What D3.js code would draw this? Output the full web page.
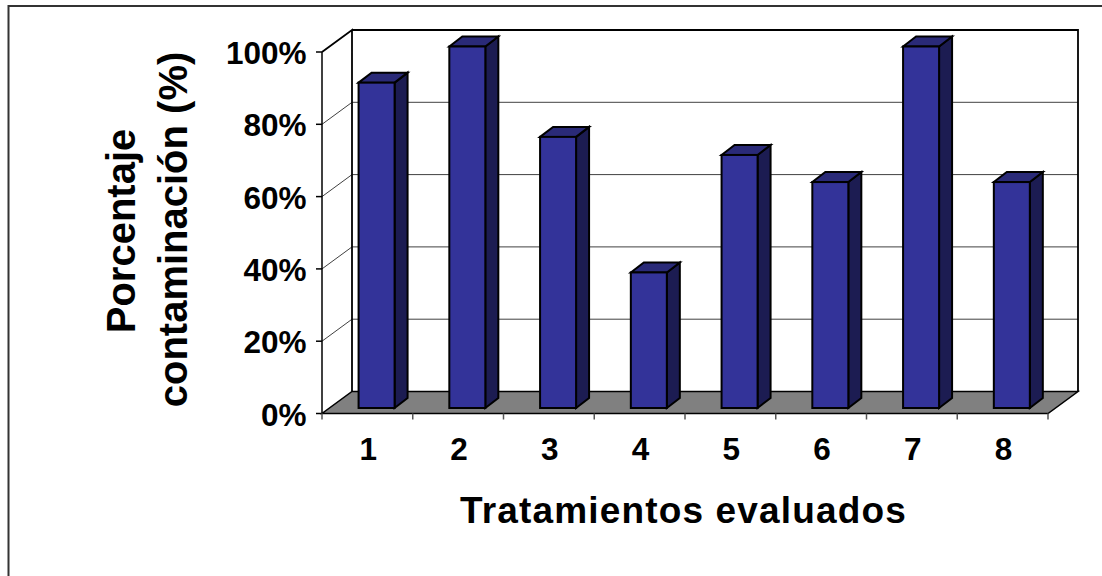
<!DOCTYPE html>
<html>
<head>
<meta charset="utf-8">
<script src="https://cdn.jsdelivr.net/npm/d3@7"></script>
<style>
html, body { margin: 0; padding: 0; background: #fff; overflow: hidden; }
text { font-family: "Liberation Sans", Arial, sans-serif; font-weight: 700; fill: #000; }
</style>
</head>
<body>
<svg id="chart" width="1102" height="576"></svg>
<script>
const categories = ["1", "2", "3", "4", "5", "6", "7", "8"];
const contamination = [90, 100, 75, 37.5, 70, 62.5, 100, 62.5];
const percentTicks = [0, 20, 40, 60, 80, 100];
const xTitle = "Tratamientos evaluados";
const yTitleLines = ["Porcentaje", "contaminación (%)"];

const svg = d3.select("#chart");

const front = { left: 322, right: 1048, bottom: 413.5, top: 52 };
const depth = { dx: 30, dy: -22 };

const x = d3.scaleBand().domain(categories).range([front.left, front.right]);
const y = d3.scaleLinear().domain([0, 100]).range([front.bottom, front.top]);

const line = d3.line();
const barWidth = 36;
const barDepth = { dx: 13, dy: -10 };
const barLift = -5.5;
const barShift = 9.2;

// Chart area frame: only the top and left edges are visible
svg.append("path")
  .attr("d", "M8.5,576V6H1102")
  .attr("fill", "none").attr("stroke", "#333").attr("stroke-width", 2);

// Floor
svg.append("path")
  .attr("d", line([
    [front.left, front.bottom],
    [front.right, front.bottom],
    [front.right + depth.dx, front.bottom + depth.dy],
    [front.left + depth.dx, front.bottom + depth.dy]
  ]) + "Z")
  .attr("fill", "#808080").attr("stroke", "#000").attr("stroke-width", 1.5);

// Gridlines across the side and back walls
svg.append("g").selectAll("path").data(percentTicks.filter(t => t > 0 && t < 100)).join("path")
  .attr("d", t => line([
    [front.left, y(t)],
    [front.left + depth.dx, y(t) + depth.dy],
    [front.right + depth.dx, y(t) + depth.dy]
  ]))
  .attr("fill", "none").attr("stroke", "#000").attr("stroke-width", 1)
  .attr("stroke-opacity", 0.75);

// Walls
svg.append("path")
  .attr("d", line([
    [front.left, front.top],
    [front.left + depth.dx, front.top + depth.dy],
    [front.left + depth.dx, front.bottom + depth.dy]
  ]))
  .attr("fill", "none").attr("stroke", "#000").attr("stroke-width", 1.8);
svg.append("path")
  .attr("d", line([
    [front.left + depth.dx, front.top + depth.dy],
    [front.right + depth.dx, front.top + depth.dy],
    [front.right + depth.dx, front.bottom + depth.dy]
  ]))
  .attr("fill", "none").attr("stroke", "#000").attr("stroke-width", 1.8);

// Front-left vertical axis
svg.append("path")
  .attr("d", line([[front.left, front.bottom], [front.left, front.top]]))
  .attr("fill", "none").attr("stroke", "#000").attr("stroke-width", 1.5);

// Value axis ticks and labels
const yTicks = svg.append("g");
yTicks.selectAll("line").data(percentTicks).join("line")
  .attr("x1", front.left - 6).attr("x2", front.left)
  .attr("y1", d => y(d)).attr("y2", d => y(d))
  .attr("stroke", "#000").attr("stroke-width", 1.5);
yTicks.selectAll("text").data(percentTicks).join("text")
  .attr("x", front.left - 15.5).attr("y", d => y(d) + 12)
  .attr("text-anchor", "end").attr("font-size", 31.5)
  .text(d => d + "%");

// Category axis ticks and labels
const xTickPositions = categories.map(c => x(c)).concat([front.right]);
svg.append("g").selectAll("line").data(xTickPositions).join("line")
  .attr("x1", d => d).attr("x2", d => d)
  .attr("y1", front.bottom).attr("y2", front.bottom + 6)
  .attr("stroke", "#555").attr("stroke-width", 1.5);

svg.append("g").selectAll("text").data(categories).join("text")
  .attr("x", d => x(d) + x.bandwidth() / 2 + 1)
  .attr("y", 459.5)
  .attr("text-anchor", "middle").attr("font-size", 31.5)
  .text(d => d);

// Bars: side, top and front faces
const bars = svg.append("g").selectAll("g")
  .data(categories.map((c, i) => ({ c, v: contamination[i] })))
  .join("g")
  .attr("stroke", "#000").attr("stroke-width", 2).attr("stroke-linejoin", "miter");

const barLeft = d => x(d.c) + (x.bandwidth() - barWidth) / 2 + barShift;

bars.append("path").attr("fill", "#1c1c52").attr("d", d => {
  const l = barLeft(d) + barWidth, b = front.bottom + barLift, t = y(d.v) + barLift;
  return line([[l, b], [l + barDepth.dx, b + barDepth.dy], [l + barDepth.dx, t + barDepth.dy], [l, t]]) + "Z";
});
bars.append("path").attr("fill", "#2a2a78").attr("d", d => {
  const l = barLeft(d), r = l + barWidth, t = y(d.v) + barLift;
  return line([[l, t], [l + barDepth.dx, t + barDepth.dy], [r + barDepth.dx, t + barDepth.dy], [r, t]]) + "Z";
});
bars.append("rect").attr("fill", "#333399")
  .attr("x", d => barLeft(d))
  .attr("y", d => y(d.v) + barLift)
  .attr("width", barWidth)
  .attr("height", d => front.bottom - y(d.v));

// Axis titles
svg.append("text")
  .attr("x", 683.5).attr("y", 523)
  .attr("text-anchor", "middle").attr("font-size", 37).attr("letter-spacing", 1.15)
  .text(xTitle);

svg.append("g").selectAll("text").data(yTitleLines).join("text")
  .attr("transform", (d, i) => `translate(${i === 0 ? 135 : 187},${i === 0 ? 231 : 229.5}) rotate(-90)`)
  .attr("text-anchor", "middle").attr("font-size", 40)
  .text(d => d);
</script>
</body>
</html>
